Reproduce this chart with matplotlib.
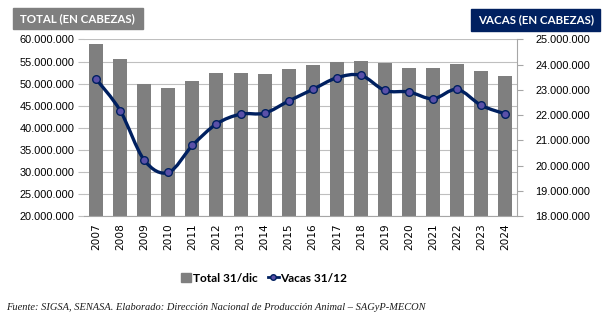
import numpy as np
import matplotlib
matplotlib.use("Agg")
import matplotlib.pyplot as plt
from matplotlib.path import Path
from matplotlib.patches import PathPatch, Rectangle
from matplotlib.lines import Line2D
from matplotlib.ticker import FuncFormatter

# stock data (head), 31 Dec of each year
years = [str(y) for y in range(2007, 2025)]
total = [58.9, 55.5, 50.0, 48.9, 50.7, 52.3, 52.4, 52.2, 53.2, 54.25,
         54.9, 55.1, 54.6, 53.6, 53.5, 54.35, 52.8, 51.7]          # millions
vacas = [23.43, 22.18, 20.22, 19.73, 20.8, 21.65, 22.04, 22.08, 22.56, 23.02,
         23.48, 23.58, 22.98, 22.92, 22.65, 23.02, 22.39, 22.05]   # millions

bar_col = "#7f7f7f"
navy = "#002060"


def miles(v, pos):
    # 60 -> 60.000.000
    return f"{int(round(v * 1e6)):,}".replace(",", ".")


fig = plt.figure(figsize=(6.05, 3.26), dpi=100)
ax = fig.add_axes([0.139, 0.337, 0.716, 0.542])
x = np.arange(len(years))

ax.bar(x, total, width=0.58, color=bar_col, zorder=2)
ax.set_ylim(20, 60)
ax.set_yticks(np.arange(20, 61, 5))
ax.yaxis.set_major_formatter(FuncFormatter(miles))
ax.set_xlim(-0.5, len(years) - 0.5)
ax.set_xticks(x)
ax.set_xticklabels(years, rotation=90, fontsize=7.6, family="DejaVu Sans")
ax.grid(axis="y", color="#bfbfbf", lw=0.8, zorder=0)
ax.tick_params(axis="y", labelsize=7.9, length=4, color="#bfbfbf", pad=3)
ax.tick_params(axis="x", length=0, pad=5)
for lbl in ax.get_yticklabels():
    lbl.set_family("Liberation Sans")
ax.spines["left"].set_visible(False)
ax.spines["top"].set_visible(False)
ax.spines["right"].set_visible(False)
ax.spines["bottom"].set_color("#a6a6a6")

# cows on the secondary axis
ax2 = ax.twinx()
ax2.set_ylim(18, 25)
ax2.set_yticks(np.arange(18, 26, 1))
ax2.yaxis.set_major_formatter(FuncFormatter(miles))
ax2.tick_params(axis="y", labelsize=7.9, length=4, color="#a6a6a6", pad=9)
for lbl in ax2.get_yticklabels():
    lbl.set_family("Liberation Sans")
for s in ["left", "top", "bottom"]:
    ax2.spines[s].set_visible(False)
ax2.spines["right"].set_color("#a6a6a6")

# smoothed line (catmull-rom as cubic bezier segments)
pts = np.column_stack([x, vacas]).astype(float)
ext = np.vstack([pts[0], pts, pts[-1]])
verts = [pts[0]]
codes = [Path.MOVETO]
for i in range(len(pts) - 1):
    p0, p1, p2, p3 = ext[i], ext[i + 1], ext[i + 2], ext[i + 3]
    verts += [p1 + (p2 - p0) / 6, p2 - (p3 - p1) / 6, p2]
    codes += [Path.CURVE4] * 3
ax2.add_patch(PathPatch(Path(verts, codes), fc="none", ec=navy, lw=2.4,
                        zorder=3, capstyle="round", joinstyle="round"))
ax2.plot(x, vacas, ls="none", marker="o", ms=5.5, mfc="#5a50a8",
         mec=navy, mew=1.0, zorder=4)

# header boxes
fig.patches.append(Rectangle((13 / 605, 1 - 29 / 326), 130 / 605, 21 / 326,
                             transform=fig.transFigure, color=bar_col))
fig.text(20 / 605, 1 - 18.5 / 326, "TOTAL (EN CABEZAS)", color="white",
         fontsize=8.3, fontweight="bold", family="Lato", va="center")
fig.patches.append(Rectangle((471 / 605, 1 - 31 / 326), 129 / 605, 22 / 326,
                             transform=fig.transFigure, color=navy))
fig.text(478 / 605, 1 - 20 / 326, "VACAS (EN CABEZAS)", color="white",
         fontsize=8.3, fontweight="bold", family="Lato", va="center")

handles = [Rectangle((0, 0), 1, 1, color=bar_col),
           Line2D([], [], color=navy, lw=2, marker="o", ms=4,
                  mfc="#5a50a8", mec=navy)]
fig.legend(handles, ["Total 31/dic", "Vacas 31/12"], loc="center",
           bbox_to_anchor=(0.436, 0.147), ncol=2, frameon=False,
           prop={"family": "Lato", "weight": "bold", "size": 8.6},
           handlelength=0.9, handleheight=0.9, handletextpad=0.1,
           columnspacing=0.9)

fig.text(6 / 605, 1 - 308 / 326,
         "Fuente: SIGSA, SENASA. Elaborado: Dirección Nacional de Producción Animal – SAGyP-MECON",
         fontsize=7.5, style="italic", family="Liberation Serif", va="center",
         color="#1a1a1a")

fig.savefig("out.png", dpi=100)
